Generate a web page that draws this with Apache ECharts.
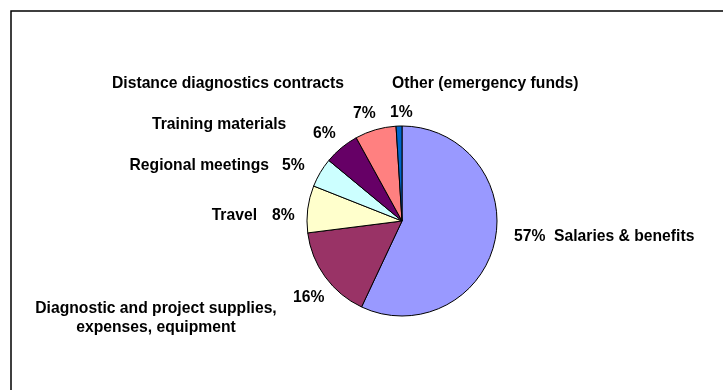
<!DOCTYPE html>
<html>
<head>
<meta charset="utf-8">
<script src="https://cdn.jsdelivr.net/npm/echarts@6/dist/echarts.min.js"></script>
<style>
  html, body { margin: 0; padding: 0; background: #ffffff; }
  #chart { width: 723px; height: 390px; }
</style>
</head>
<body>
<div id="chart"></div>
<script>
// Budget categories, clockwise from 12 o'clock
const categories = [
  'Salaries & benefits',
  'Diagnostic and project supplies,\nexpenses, equipment',
  'Travel',
  'Regional meetings',
  'Training materials',
  'Distance diagnostics contracts',
  'Other (emergency funds)'
];
// Share of the budget, percent
const shares = [57, 16, 8, 5, 6, 7, 1];
const sliceColors = ['#9999FF', '#993366', '#FFFFCC', '#CCFFFF', '#660066', '#FF8080', '#0066CC'];

// Where each label sits: [x, y, align]
const pctLabelPos = [
  [514, 237, 'left'],
  [293, 298, 'left'],
  [272, 216, 'left'],
  [282, 166, 'left'],
  [313, 134, 'left'],
  [353, 114, 'left'],
  [390, 113, 'left']
];
const nameLabelPos = [
  [554, 237, 'left'],
  [156, 318, 'center'],
  [257, 216, 'right'],
  [269, 166, 'right'],
  [152, 125, 'left'],
  [112, 84, 'left'],
  [392, 84, 'left']
];

const data = categories.map((name, i) => ({
  name: name,
  value: shares[i],
  itemStyle: { color: sliceColors[i] }
}));

const labelFont = {
  fontFamily: 'Liberation Sans, Arial, sans-serif',
  fontWeight: 'bold',
  fontSize: 15.7,
  color: '#000000',
  lineHeight: 19
};

const chart = echarts.init(document.getElementById('chart'), null, { renderer: 'canvas' });

chart.setOption({
  backgroundColor: '#ffffff',
  animation: false,
  graphic: [{
    type: 'rect',
    shape: { x: 11, y: 11, width: 800, height: 500 },
    style: { fill: 'none', stroke: '#000000', lineWidth: 1.5 },
    silent: true,
    z: 0
  }],
  series: [
    {
      type: 'pie',
      center: [402, 221],
      radius: 95,
      startAngle: 90,
      clockwise: true,
      data: data,
      itemStyle: { borderColor: '#000000', borderWidth: 1 },
      emphasis: { disabled: true },
      labelLine: { show: false },
      label: Object.assign({
        show: true,
        position: 'outside',
        formatter: p => Math.round(p.percent) + '%'
      }, labelFont),
      labelLayout: p => ({
        x: pctLabelPos[p.dataIndex][0],
        y: pctLabelPos[p.dataIndex][1],
        align: pctLabelPos[p.dataIndex][2],
        verticalAlign: 'middle'
      })
    },
    {
      type: 'pie',
      center: [402, 221],
      radius: 95,
      startAngle: 90,
      clockwise: true,
      silent: true,
      data: categories.map((name, i) => ({ name: name, value: shares[i] })),
      itemStyle: { color: 'rgba(0,0,0,0)', borderWidth: 0 },
      emphasis: { disabled: true },
      labelLine: { show: false },
      label: Object.assign({
        show: true,
        position: 'outside',
        formatter: p => p.name,
        align: 'center'
      }, labelFont),
      labelLayout: p => ({
        x: nameLabelPos[p.dataIndex][0],
        y: nameLabelPos[p.dataIndex][1],
        align: nameLabelPos[p.dataIndex][2],
        verticalAlign: 'middle'
      })
    }
  ]
});
</script>
</body>
</html>
